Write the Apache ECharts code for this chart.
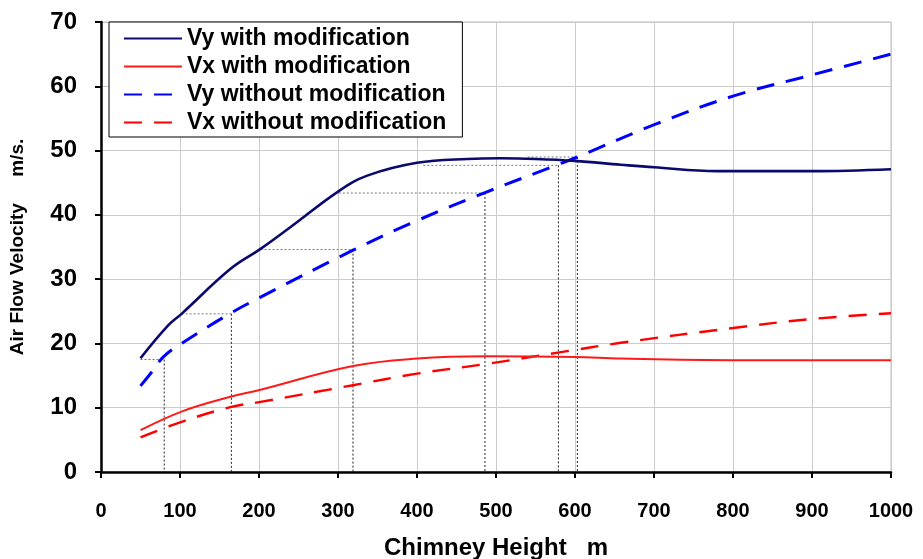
<!DOCTYPE html>
<html>
<head>
<meta charset="utf-8">
<script src="https://cdn.jsdelivr.net/npm/echarts@6/dist/echarts.min.js"></script>
<style>
  html, body { margin: 0; padding: 0; background: #fff; }
  #chart { width: 923px; height: 559px; }
</style>
</head>
<body>
<div id="chart"></div>
<script>
// chimney height (m) and air flow velocity (m/s)
const vyModX = [50, 85, 102, 164, 202, 240, 301, 337, 400, 464, 506, 550, 600, 658, 700, 780, 850, 900, 1000];
const vyModY = [17.7, 22.8, 24.6, 31.6, 34.7, 38.1, 43.7, 46.1, 48.1, 48.7, 48.8, 48.7, 48.4, 47.8, 47.4, 46.8, 46.8, 46.8, 47.1];

const vxModX = [50, 102, 164, 202, 319, 400, 487, 600, 658, 800, 1000];
const vxModY = [6.5, 9.4, 11.7, 12.8, 16.5, 17.65, 18.0, 17.9, 17.65, 17.4, 17.4];

const vyNoX = [50, 62, 79, 102, 164, 202, 319, 400, 487, 580, 603, 702, 801, 901, 1000];
const vyNoY = [13.4, 15.2, 17.9, 20.0, 24.7, 27.2, 34.5, 39.1, 43.5, 47.9, 49.0, 54.1, 58.5, 61.8, 65.0];

const vxNoX = [50, 102, 164, 202, 319, 400, 487, 580, 658, 800, 900, 1000];
const vxNoY = [5.4, 7.8, 10.1, 10.9, 13.5, 15.3, 16.8, 18.6, 20.1, 22.4, 23.8, 24.7];

// dotted guide lines: horizontal from guideFrom to guideTo at guideY, then down to 0
const guideY = [17.5, 24.6, 34.6, 43.4, 47.7, 49.0];
const guideFrom = [50, 102, 202, 301, 408, 540];
const guideTo = [80, 165, 319, 486, 579, 603];

const names = ['Vy with modification', 'Vx with modification', 'Vy without modification', 'Vx without modification'];
const xTicks = [0, 100, 200, 300, 400, 500, 600, 700, 800, 900, 1000];
const yTicks = [0, 10, 20, 30, 40, 50, 60, 70];

const FONT = '"Liberation Sans", Arial, sans-serif';
const pairs = (xs, ys) => xs.map((x, i) => [x, ys[i]]);

const guideSeries = [];
guideY.forEach((y, i) => {
  guideSeries.push({
    type: 'line', silent: true, symbol: 'none', z: 1,
    data: [[guideFrom[i], y], [guideTo[i], y]],
    lineStyle: {color: '#777', width: 1, type: [2, 2]},
  });
  guideSeries.push({
    type: 'line', silent: true, symbol: 'none', z: 1,
    data: [[guideTo[i], y], [guideTo[i], 0]],
    lineStyle: {color: '#222', width: 1, type: [2, 2]},
  });
});

const chart = echarts.init(document.getElementById('chart'), null, {renderer: 'canvas'});
chart.setOption({
  animation: false,
  backgroundColor: '#fff',
  textStyle: {fontFamily: FONT},
  grid: {
    left: 101, right: 32, top: 22, bottom: 87,
    containLabel: false, outerBoundsMode: 'none',
    show: true, borderColor: '#bbb', borderWidth: 1,
  },
  legend: {
    data: names,
    orient: 'vertical',
    left: 109, top: 22,
    itemWidth: 58, itemHeight: 14, itemGap: 5,
    padding: [5, 16, 3, 14],
    backgroundColor: '#fff',
    borderColor: '#000', borderWidth: 1,
    itemStyle: {opacity: 0},
    textStyle: {fontFamily: FONT, fontWeight: 'bold', fontSize: 23, lineHeight: 23, color: '#000'},
  },
  xAxis: {
    type: 'value', min: 0, max: 1000, interval: 100,
    name: 'Chimney Height   m',
    nameLocation: 'middle', nameGap: 64,
    nameTextStyle: {fontFamily: FONT, fontWeight: 'bold', fontSize: 24, color: '#000'},
    axisLine: {lineStyle: {color: '#000', width: 2.5}},
    axisTick: {show: true, length: 6, lineStyle: {color: '#000', width: 2}},
    axisLabel: {
      margin: 29, fontFamily: FONT, fontWeight: 'bold', fontSize: 20, color: '#000',
      formatter: v => xTicks.includes(v) ? String(v) : '',
    },
    splitLine: {lineStyle: {color: '#ccc', width: 1}},
  },
  yAxis: {
    type: 'value', min: 0, max: 70, interval: 10,
    name: 'Air Flow Velocity     m/s.',
    nameLocation: 'middle', nameGap: 74, nameRotate: 90,
    nameTextStyle: {fontFamily: FONT, fontWeight: 'bold', fontSize: 19, color: '#000'},
    axisLine: {show: true, lineStyle: {color: '#000', width: 2.5}},
    axisTick: {show: true, length: 6, lineStyle: {color: '#000', width: 2}},
    axisLabel: {
      margin: 24, fontFamily: FONT, fontWeight: 'bold', fontSize: 24, color: '#000',
      formatter: v => yTicks.includes(v) ? String(v) : '',
    },
    splitLine: {lineStyle: {color: '#ccc', width: 1}},
  },
  series: [
    ...guideSeries,
    {
      name: names[0], type: 'line', smooth: 0.4, symbol: 'none', z: 5,
      data: pairs(vyModX, vyModY),
      lineStyle: {color: '#0a0a6e', width: 2.6},
      itemStyle: {color: '#0a0a6e'},
    },
    {
      name: names[1], type: 'line', smooth: 0.4, symbol: 'none', z: 5,
      data: pairs(vxModX, vxModY),
      lineStyle: {color: '#ff1a1a', width: 2},
      itemStyle: {color: '#ff1a1a'},
    },
    {
      name: names[2], type: 'line', smooth: 0.4, symbol: 'none', z: 4,
      data: pairs(vyNoX, vyNoY),
      lineStyle: {color: '#0000ff', width: 3, type: [18, 12]},
      itemStyle: {color: '#0000ff'},
    },
    {
      name: names[3], type: 'line', smooth: 0.4, symbol: 'none', z: 4,
      data: pairs(vxNoX, vxNoY),
      lineStyle: {color: '#ff0000', width: 2.4, type: [18, 12]},
      itemStyle: {color: '#ff0000'},
    },
  ],
});
</script>
</body>
</html>
